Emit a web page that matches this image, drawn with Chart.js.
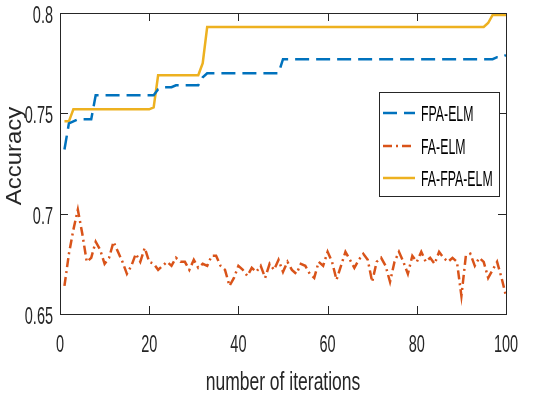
<!DOCTYPE html>
<html>
<head>
<meta charset="utf-8">
<script src="https://cdn.jsdelivr.net/npm/chart.js@4.4.1/dist/chart.umd.min.js"></script>
<style>
  html, body { margin: 0; padding: 0; background: #fff; }
  #wrap { width: 550px; height: 396px; }
</style>
</head>
<body>
<div id="wrap"><canvas id="chart" width="550" height="396"></canvas></div>
<script>
// values, one per iteration (1..100)
const fpaElm = [
  0.732, 0.745, 0.746, 0.747, 0.747, 0.747, 0.747, 0.759, 0.759, 0.759,
  0.759, 0.759, 0.759, 0.759, 0.759, 0.759, 0.759, 0.759, 0.759, 0.759,
  0.759, 0.762, 0.763, 0.763, 0.763, 0.764, 0.764, 0.764, 0.764, 0.764,
  0.764, 0.768, 0.770, 0.770, 0.770, 0.770, 0.770, 0.770, 0.770, 0.770,
  0.770, 0.770, 0.770, 0.770, 0.770, 0.770, 0.770, 0.770, 0.770, 0.777,
  0.777, 0.777, 0.777, 0.777, 0.777, 0.777, 0.777, 0.777, 0.777, 0.777,
  0.777, 0.777, 0.777, 0.777, 0.777, 0.777, 0.777, 0.777, 0.777, 0.777,
  0.777, 0.777, 0.777, 0.777, 0.777, 0.777, 0.777, 0.777, 0.777, 0.777,
  0.777, 0.777, 0.777, 0.777, 0.777, 0.777, 0.777, 0.777, 0.777, 0.777,
  0.777, 0.777, 0.777, 0.777, 0.777, 0.777, 0.777, 0.778, 0.778, 0.779
];
const faElm = [
  0.664, 0.680, 0.692, 0.702, 0.690, 0.676, 0.678, 0.686, 0.682, 0.675,
  0.678, 0.686, 0.681, 0.676, 0.670, 0.674, 0.680, 0.676, 0.683, 0.676,
  0.675, 0.672, 0.674, 0.676, 0.674, 0.678, 0.676, 0.676, 0.672, 0.677,
  0.673, 0.675, 0.674, 0.679, 0.679, 0.674, 0.672, 0.664, 0.668, 0.674,
  0.672, 0.669, 0.673, 0.671, 0.674, 0.668, 0.675, 0.672, 0.677, 0.671,
  0.676, 0.672, 0.670, 0.675, 0.674, 0.670, 0.668, 0.676, 0.674, 0.681,
  0.676, 0.667, 0.674, 0.681, 0.677, 0.673, 0.677, 0.680, 0.677, 0.666,
  0.676, 0.678, 0.674, 0.666, 0.676, 0.681, 0.676, 0.670, 0.679, 0.676,
  0.681, 0.676, 0.678, 0.675, 0.681, 0.678, 0.676, 0.678, 0.676, 0.659,
  0.679, 0.680, 0.674, 0.678, 0.676, 0.668, 0.672, 0.676, 0.668, 0.659
];
const faFpaElm = [
  0.746, 0.746, 0.752, 0.752, 0.752, 0.752, 0.752, 0.752, 0.752, 0.752,
  0.752, 0.752, 0.752, 0.752, 0.752, 0.752, 0.752, 0.752, 0.752, 0.752,
  0.753, 0.769, 0.769, 0.769, 0.769, 0.769, 0.769, 0.769, 0.769, 0.769,
  0.769, 0.775, 0.793, 0.793, 0.793, 0.793, 0.793, 0.793, 0.793, 0.793,
  0.793, 0.793, 0.793, 0.793, 0.793, 0.793, 0.793, 0.793, 0.793, 0.793,
  0.793, 0.793, 0.793, 0.793, 0.793, 0.793, 0.793, 0.793, 0.793, 0.793,
  0.793, 0.793, 0.793, 0.793, 0.793, 0.793, 0.793, 0.793, 0.793, 0.793,
  0.793, 0.793, 0.793, 0.793, 0.793, 0.793, 0.793, 0.793, 0.793, 0.793,
  0.793, 0.793, 0.793, 0.793, 0.793, 0.793, 0.793, 0.793, 0.793, 0.793,
  0.793, 0.793, 0.793, 0.793, 0.793, 0.795, 0.799, 0.799, 0.799, 0.799
];
const seriesNames = ['FPA-ELM', 'FA-ELM', 'FA-FPA-ELM'];
const xTicks = [0, 20, 40, 60, 80, 100];
const yTicks = [0.65, 0.7, 0.75, 0.8];
const xTitle = 'number of iterations';
const yTitle = 'Accuracy';

const axisColor = '#262626';
const sans = '"Liberation Sans", Arial, sans-serif';

function toPoints(values) {
  return values.map((v, i) => ({ x: i + 1, y: v }));
}

// text squeezed horizontally, like the condensed MATLAB font
function narrowText(ctx, text, x, y, size, sx, align) {
  ctx.save();
  ctx.translate(x, y);
  ctx.scale(sx, 1);
  ctx.font = size + 'px ' + sans;
  ctx.textAlign = align;
  ctx.textBaseline = 'alphabetic';
  ctx.fillText(text, 0, 0);
  ctx.restore();
}

// MATLAB-style box with inward ticks, tick labels, titles and the boxed legend
const matlabBox = {
  id: 'matlabBox',
  afterDraw(chart) {
    const { ctx, chartArea: a, scales } = chart;
    ctx.save();
    ctx.strokeStyle = axisColor;
    ctx.lineWidth = 1;
    ctx.strokeRect(a.left + 0.5, a.top + 0.5, a.right - a.left, a.bottom - a.top);
    const len = 8;
    ctx.beginPath();
    xTicks.forEach(t => {
      const px = Math.round(scales.x.getPixelForValue(t)) + 0.5;
      ctx.moveTo(px, a.bottom); ctx.lineTo(px, a.bottom - len);
      ctx.moveTo(px, a.top); ctx.lineTo(px, a.top + len);
    });
    yTicks.forEach(t => {
      const py = Math.round(scales.y.getPixelForValue(t)) + 0.5;
      ctx.moveTo(a.left, py); ctx.lineTo(a.left + len, py);
      ctx.moveTo(a.right, py); ctx.lineTo(a.right - len, py);
    });
    ctx.stroke();

    ctx.fillStyle = axisColor;
    xTicks.forEach(t => {
      narrowText(ctx, String(t), scales.x.getPixelForValue(t), a.bottom + 38, 23, 0.63, 'center');
    });
    yTicks.forEach(t => {
      narrowText(ctx, String(t), a.left - 7, scales.y.getPixelForValue(t) + 10, 23, 0.63, 'right');
    });
    narrowText(ctx, xTitle, (a.left + a.right) / 2, 390, 25, 0.7, 'center');

    ctx.save();
    ctx.translate(21, 156);
    ctx.rotate(-Math.PI / 2);
    ctx.scale(1, 0.9);
    ctx.font = '24px ' + sans;
    ctx.textAlign = 'center';
    ctx.textBaseline = 'alphabetic';
    ctx.fillText(yTitle, 0, 0);
    ctx.restore();

    // legend
    const box = { x: 379, y: 92, w: 120, h: 104 };
    ctx.fillStyle = '#fff';
    ctx.fillRect(box.x, box.y, box.w, box.h);
    ctx.strokeStyle = axisColor;
    ctx.strokeRect(box.x + 0.5, box.y + 0.5, box.w, box.h);
    const rows = [113, 146, 178];
    chart.data.datasets.forEach((ds, i) => {
      const y = rows[i];
      ctx.strokeStyle = ds.borderColor;
      ctx.lineWidth = ds.borderWidth;
      ctx.setLineDash(ds.borderDash || []);
      ctx.beginPath();
      ctx.moveTo(383, y); ctx.lineTo(415, y);
      ctx.stroke();
      ctx.setLineDash([]);
      ctx.fillStyle = '#000';
      narrowText(ctx, ds.label, 421, y + 8, 22, 0.56, 'left');
    });
    ctx.restore();
  }
};

new Chart(document.getElementById('chart'), {
  type: 'line',
  data: {
    datasets: [
      {
        label: seriesNames[0],
        data: toPoints(fpaElm),
        borderColor: '#0072BD',
        borderWidth: 2.5,
        borderDash: [14, 7],
        pointRadius: 0,
        tension: 0
      },
      {
        label: seriesNames[1],
        data: toPoints(faElm),
        borderColor: '#D95319',
        borderWidth: 2.5,
        borderDash: [9, 4, 2, 4],
        pointRadius: 0,
        tension: 0
      },
      {
        label: seriesNames[2],
        data: toPoints(faFpaElm),
        borderColor: '#EDB120',
        borderWidth: 2.5,
        pointRadius: 0,
        tension: 0
      }
    ]
  },
  options: {
    responsive: false,
    animation: false,
    layout: { padding: { top: 13, right: 44, left: 0, bottom: 0 } },
    plugins: { legend: { display: false }, tooltip: { enabled: false } },
    scales: {
      x: {
        type: 'linear',
        min: 0,
        max: 100,
        afterFit(scale) { scale.height = 82; },
        grid: { display: false },
        border: { display: false },
        ticks: { display: false }
      },
      y: {
        min: 0.65,
        max: 0.8,
        afterFit(scale) { scale.width = 60; },
        grid: { display: false },
        border: { display: false },
        ticks: { display: false }
      }
    }
  },
  plugins: [matlabBox]
});
</script>
</body>
</html>
